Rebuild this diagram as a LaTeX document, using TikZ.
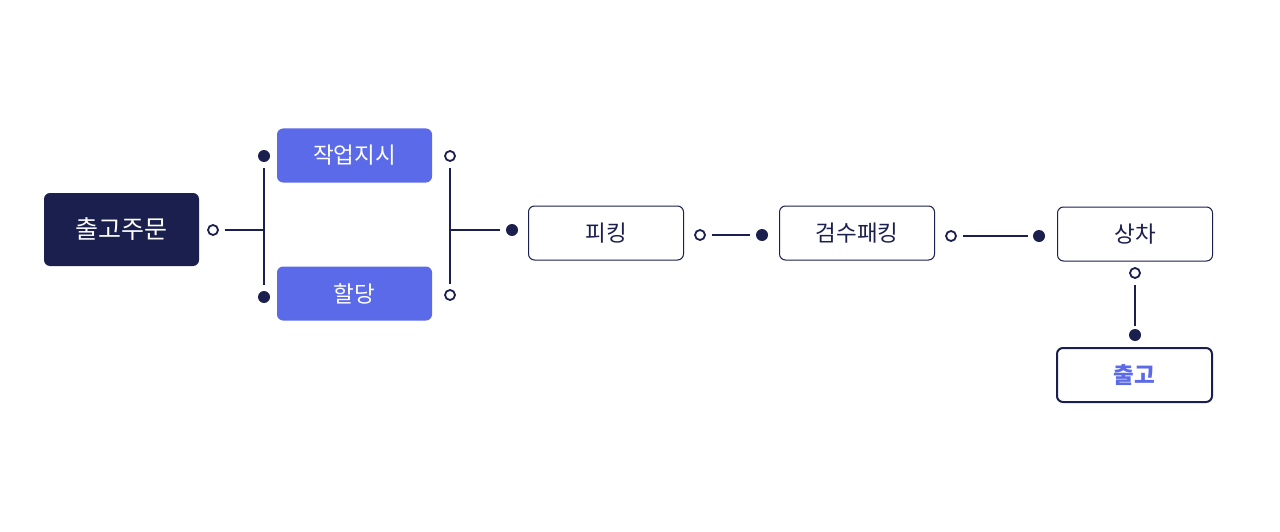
\documentclass[tikz,border=0pt]{standalone}
\usepackage{fontspec}
\newfontfamily\kr{Noto Sans CJK KR}
\definecolor{navy}{HTML}{1A1F4E}
\definecolor{accent}{HTML}{5B6AE8}
\begin{document}
\begin{tikzpicture}[x=1pt,y=-1pt,
  box/.style={rounded corners=6pt, minimum width=155pt, minimum height=54pt, inner sep=0pt, font=\kr\fontsize{22.5}{26}\selectfont},
  darkbox/.style={box, fill=navy, text=white, minimum height=73pt, font=\kr\fontsize{25}{29}\selectfont},
  bluebox/.style={box, fill=accent, text=white},
  linebox/.style={box, draw=navy, line width=1pt, fill=white, text=navy},
  shipbox/.style={box, draw=navy, line width=2pt, fill=white, text=accent, font=\kr\bfseries\fontsize{22.5}{26}\selectfont},
  opendot/.style={circle, draw=navy, line width=1.8pt, fill=white, minimum size=10pt, inner sep=0pt},
  fulldot/.style={circle, fill=navy, minimum size=12pt, inner sep=0pt},
  wire/.style={draw=navy, line width=2pt},
]
\useasboundingbox (0,0) rectangle (1280,532);
\fill[white] (0,0) rectangle (1280,532);

% boxes
\node[darkbox] (order) at (121.5,229.5) {출고주문};
\node[bluebox] (work) at (354.5,155.5) {작업지시};
\node[bluebox] (alloc) at (354.5,293.5) {할당};
\node[linebox] (pick) at (606,233) {피킹};
\node[linebox] (insp) at (857,233) {검수패킹};
\node[linebox] (load) at (1135,234) {상차};
\node[shipbox] (ship) at (1134.5,375) {출고};

% dots
\node[opendot] (o1) at (213,230) {};
\node[fulldot] (d1) at (264,156) {};
\node[fulldot] (d2) at (264,297) {};
\coordinate (j1) at (264,230);

\node[opendot] (o2) at (450,156) {};
\node[opendot] (o3) at (450,295) {};
\coordinate (j2) at (450,230);
\node[fulldot] (d3) at (512,230) {};

\node[opendot] (o4) at (700,235) {};
\node[fulldot] (d4) at (762,235) {};

\node[opendot] (o5) at (951,236) {};
\node[fulldot] (d5) at (1039,236) {};

\node[opendot] (o6) at (1135,273) {};
\node[fulldot] (d6) at (1135,335) {};

% wires
\draw[wire, shorten <=6pt] (o1) -- (j1);
\draw[wire, shorten <=6pt, shorten >=6pt] (d1) -- (d2);
\draw[wire, shorten <=6pt, shorten >=5pt] (o2) -- (o3);
\draw[wire, shorten >=6pt] (j2) -- (d3);
\draw[wire, shorten <=6pt, shorten >=6pt] (o4) -- (d4);
\draw[wire, shorten <=6pt, shorten >=5pt] (o5) -- (d5);
\draw[wire, shorten <=6pt, shorten >=3pt] (o6) -- (d6);
\end{tikzpicture}
\end{document}
